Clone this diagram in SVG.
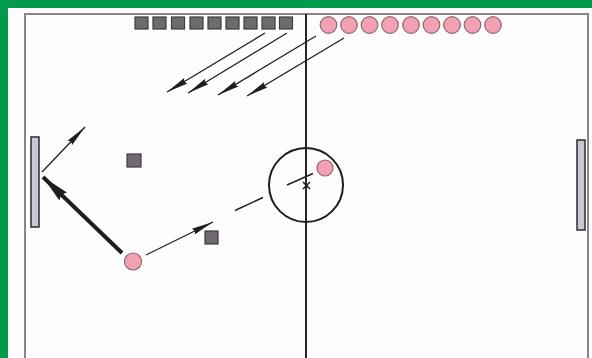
<svg xmlns="http://www.w3.org/2000/svg" width="592" height="358" viewBox="0 0 592 358">
  <defs>
    <style>
      .field{fill:none;stroke:#8a8585;stroke-width:2}
      .mid{stroke:#2a2525;stroke-width:2}
      .sq{fill:#6f6a70;stroke:#3e3a3e;stroke-width:1.2}
      .ball{fill:#f2a0b2;stroke:#8a6a70;stroke-width:1.2}
      .goal{fill:#c9c8d2;stroke:#2e2a2e;stroke-width:1.5}
      .thin{stroke:#222;stroke-width:1.3;fill:none}
      .thick{stroke:#1e1e1e;stroke-width:4;fill:none}
      .dash{stroke:#222;stroke-width:1.5;fill:none}
    </style>
    <marker id="dart" markerUnits="userSpaceOnUse" markerWidth="26" markerHeight="10" refX="22" refY="5" orient="auto">
      <path d="M0,1.8 L22,5 L0,8.2 Q3,5 0,1.8 z" fill="#1e1e1e"/>
    </marker>
    <marker id="bigdart" markerUnits="userSpaceOnUse" markerWidth="30" markerHeight="14" refX="28" refY="7" orient="auto">
      <path d="M0,1.5 L28,7 L0,12.5 Q4,7 0,1.5 z" fill="#1e1e1e"/>
    </marker>
  </defs>
  <rect x="0" y="0" width="592" height="358" fill="#009a4a"/>
  <rect x="8" y="8" width="584" height="350" fill="#fdfdfd"/>
  <g id="field">
    <path class="field" d="M25,358 V14 H588 V358"/>
    <line class="mid" x1="306" y1="14" x2="306" y2="358"/>
    <circle cx="306" cy="185" r="37" fill="none" stroke="#1e1e1e" stroke-width="2"/>
    <path d="M303,182 L310,189 M310,182 L303,189" stroke="#1e1e1e" stroke-width="1.5"/>
  </g>
  <g id="goal-left"><rect class="goal" x="31" y="137" width="8" height="90"/></g>
  <g id="goal-right"><rect class="goal" x="577" y="140" width="8" height="90"/></g>
  <g id="squares-row">
    <rect class="sq" x="135" y="17" width="13" height="12"/>
    <rect class="sq" x="153" y="17" width="13" height="12"/>
    <rect class="sq" x="171.5" y="17" width="13" height="12"/>
    <rect class="sq" x="190" y="17" width="13" height="12"/>
    <rect class="sq" x="208" y="17" width="13" height="12"/>
    <rect class="sq" x="226" y="17" width="13" height="12"/>
    <rect class="sq" x="244" y="17" width="13" height="12"/>
    <rect class="sq" x="262" y="17" width="13" height="12"/>
    <rect class="sq" x="279.5" y="17" width="13" height="12"/>
  </g>
  <g id="balls-row">
    <circle class="ball" cx="328.5" cy="25" r="8.3"/>
    <circle class="ball" cx="349" cy="25" r="8.3"/>
    <circle class="ball" cx="369.5" cy="25" r="8.3"/>
    <circle class="ball" cx="390" cy="25" r="8.3"/>
    <circle class="ball" cx="411" cy="25" r="8.3"/>
    <circle class="ball" cx="431.5" cy="25" r="8.3"/>
    <circle class="ball" cx="452" cy="25" r="8.3"/>
    <circle class="ball" cx="472.5" cy="25" r="8.3"/>
    <circle class="ball" cx="493" cy="25" r="8.3"/>
  </g>
  <g id="square-a"><rect class="sq" x="127" y="154" width="14" height="13"/></g>
  <g id="square-b"><rect class="sq" x="205" y="231" width="13" height="13"/></g>
  <g id="ball-bottom"><circle class="ball" cx="133" cy="261.5" r="8.5"/></g>
  <g id="ball-centre"><circle class="ball" cx="325" cy="168" r="8"/></g>
  <g id="connectors">
    <line class="thin" x1="265" y1="33" x2="167" y2="92" marker-end="url(#dart)"/>
    <line class="thin" x1="287" y1="33" x2="188" y2="93" marker-end="url(#dart)"/>
    <line class="thin" x1="316" y1="36" x2="218" y2="95" marker-end="url(#dart)"/>
    <line class="thin" x1="344" y1="38" x2="247" y2="96" marker-end="url(#dart)"/>
    <line class="thin" x1="42" y1="172" x2="85" y2="127" marker-end="url(#dart)"/>
    <line class="thick" x1="122" y1="253" x2="43" y2="177" marker-end="url(#bigdart)"/>
    <line class="thin" x1="146" y1="255" x2="213" y2="222" marker-end="url(#dart)"/>
    <line class="dash" x1="235" y1="210.5" x2="263" y2="197.5"/>
    <line class="dash" x1="287" y1="185" x2="313" y2="173.5"/>
  </g>
</svg>
